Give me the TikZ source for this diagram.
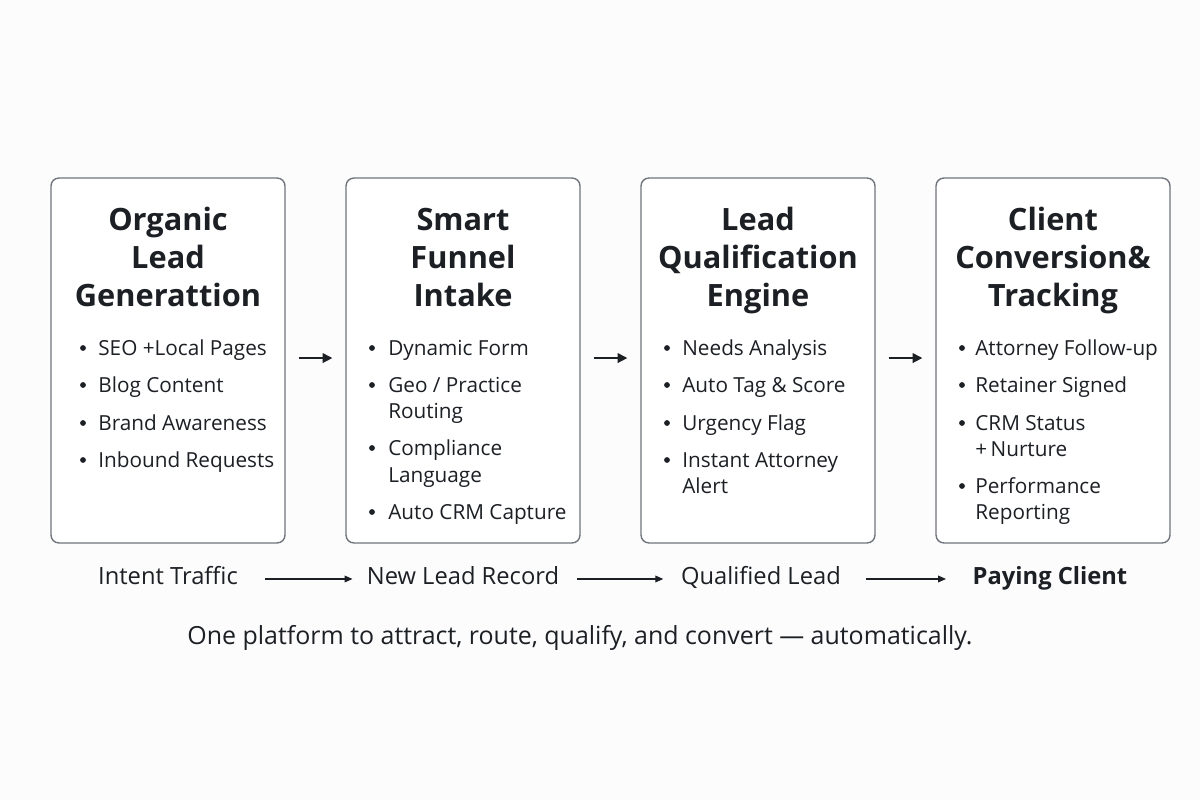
\documentclass[tikz,border=0pt]{standalone}
\usepackage{fontspec}
\setmainfont{Open Sans}
\usetikzlibrary{arrows.meta}
\definecolor{ink}{HTML}{1C1F24}
\definecolor{frame}{HTML}{70757D}
\definecolor{bg}{HTML}{FCFCFC}
\begin{document}
\begin{tikzpicture}[x=0.02cm,y=-0.02cm,
  box/.style={draw=frame, line width=0.8pt, rounded corners=4.5pt, fill=white, minimum width=4.68cm, minimum height=7.3cm, inner sep=0},
  ttl/.style={font=\bfseries\fontsize{17.5}{21.6}\selectfont, text=ink, inner sep=0, text height=1.6ex, text depth=0.45ex, yshift=-3.4pt},
  itm/.style={font=\fontsize{11.8}{14}\selectfont, text=ink, anchor=west, inner sep=0, text height=1.6ex, text depth=0.45ex, yshift=-1.1pt},
  bul/.style={circle, fill=ink, inner sep=0, minimum size=3.3pt},
  flow/.style={font=\fontsize{13.5}{16}\selectfont, text=ink, inner sep=0, text height=1.6ex, text depth=0.45ex, yshift=-1.7pt},
  arr/.style={draw=ink, line width=0.85pt, -{Triangle[length=5.5pt,width=5.5pt]}},
  tarr/.style={draw=ink, line width=0.7pt, -{Triangle[length=4.5pt,width=3.8pt]}}
]
\fill[bg] (0,0) rectangle (1200,800);
\useasboundingbox (0,0) rectangle (1200,800);

% boxes
\node[box] (b1) at (168,360.5) {};
\node[box] (b2) at (463,360.5) {};
\node[box] (b3) at (758,360.5) {};
\node[box] (b4) at (1053,360.5) {};

% titles
\foreach \x/\l/\a/\b/\c in {168/1/Organic/Lead/Generattion, 463/2/Smart/Funnel/Intake, 758/3/Lead/Qualification/Engine, 1053/4/Client/{Conversion\&}/Tracking}{
  \node[ttl] (t\l a) at (\x,219) {\a};
  \node[ttl] (t\l b) at (\x,257) {\b};
  \node[ttl] (t\l c) at (\x,295) {\c};
}

% box 1 items
\foreach \y/\t/\b [count=\i] in {348/{SEO +Local Pages}/1, 385/{Blog Content}/1, 423/{Brand Awareness}/1, 460/{Inbound Requests}/1}{
  \node[itm] (a\i) at (98,\y) {\t};
  \ifnum\b=1 \node[bul] (ad\i) at (83,\y) {}; \fi
}
% box 2 items
\foreach \y/\t/\b [count=\i] in {348/{Dynamic Form}/1, 385/{Geo / Practice}/1, 411/{Routing}/0, 448/{Compliance}/1, 475/{Language}/0, 512/{Auto CRM Capture}/1}{
  \node[itm] (c\i) at (388,\y) {\t};
  \ifnum\b=1 \node[bul] (cd\i) at (372,\y) {}; \fi
}
% box 3 items
\foreach \y/\t/\b [count=\i] in {348/{Needs Analysis}/1, 385/{Auto Tag \& Score}/1, 423/{Urgency Flag}/1, 460/{Instant Attorney}/1, 486/{Alert}/0}{
  \node[itm] (e\i) at (682,\y) {\t};
  \ifnum\b=1 \node[bul] (ed\i) at (667,\y) {}; \fi
}
% box 4 items
\foreach \y/\t/\b [count=\i] in {348/{Attorney Follow-up}/1, 385/{Retainer Signed}/1, 423/{CRM Status}/1, 449/{+\,Nurture}/0, 486/{Performance}/1, 512/{Reporting}/0}{
  \node[itm] (g\i) at (975,\y) {\t};
  \ifnum\b=1 \node[bul] (gd\i) at (962,\y) {}; \fi
}

% arrows between boxes
\draw[arr, shorten <=7.4pt, shorten >=7.4pt] ([yshift=1.4pt]b1.east) -- ([yshift=1.4pt]b2.west);
\draw[arr, shorten <=7.4pt, shorten >=7.4pt] ([yshift=1.4pt]b2.east) -- ([yshift=1.4pt]b3.west);
\draw[arr, shorten <=7.4pt, shorten >=7.4pt] ([yshift=1.4pt]b3.east) -- ([yshift=1.4pt]b4.west);

% flow labels
\node[flow] (f1) at (168,576) {Intent Traffic};
\node[flow] (f2) at (463,576) {New Lead Record};
\node[flow] (f3) at (761,576) {Qualified Lead};
\node[flow, font=\bfseries\fontsize{13.5}{16}\selectfont] (f4) at (1050,576) {Paying Client};

\draw[tarr, shorten <=15pt, shorten >=8pt] (f1) -- (f2);
\draw[tarr, shorten <=10pt, shorten >=10pt] (f2) -- (f3);
\draw[tarr, shorten <=14pt, shorten >=15pt] (f3) -- (f4);

% footer
\node[flow, font=\fontsize{14.2}{17}\selectfont] (foot) at (580,636) {One platform to attract, route, qualify, and convert — automatically.};
\end{tikzpicture}
\end{document}
